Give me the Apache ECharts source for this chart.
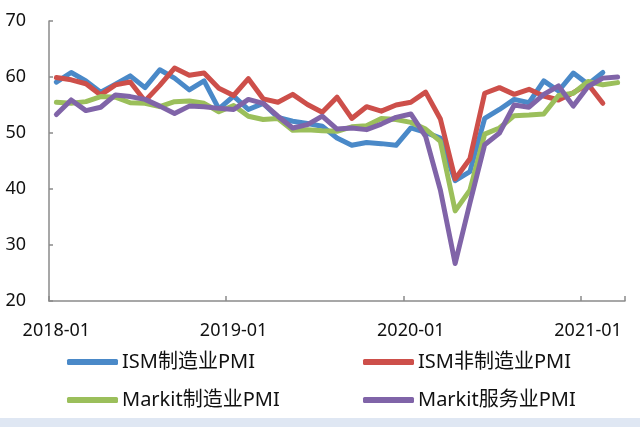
<!DOCTYPE html>
<html>
<head>
<meta charset="utf-8">
<script src="https://cdn.jsdelivr.net/npm/echarts@6/dist/echarts.min.js"></script>
<style>
  html, body { margin: 0; padding: 0; background: #fff; }
  #chart { width: 640px; height: 427px; }
</style>
</head>
<body>
<div id="chart"></div>
<script>
// monthly, 2018-01 .. 2021-03
const months = []
for (let y = 2018; y <= 2021; y++) {
  for (let m = 1; m <= 12; m++) {
    if (y === 2021 && m > 3) break
    months.push(y + '-' + String(m).padStart(2, '0'))
  }
}

const ismMfg = [
  59.1, 60.8, 59.3, 57.3, 58.7, 60.2, 58.1, 61.3, 59.8, 57.7, 59.3, 54.3,
  56.6, 54.2, 55.3, 52.8, 52.1, 51.7, 51.2, 49.1, 47.8, 48.3, 48.1, 47.8,
  50.9, 50.1, 49.1, 41.5, 43.1, 52.6, 54.2, 56.0, 55.4, 59.3, 57.5, 60.7,
  58.7, 60.8, null,
]
const ismNonMfg = [
  59.9, 59.5, 58.8, 56.8, 58.6, 59.1, 55.7, 58.5, 61.6, 60.3, 60.7, 58.0,
  56.7, 59.7, 56.1, 55.5, 56.9, 55.1, 53.7, 56.4, 52.6, 54.7, 53.9, 55.0,
  55.5, 57.3, 52.5, 41.8, 45.4, 57.1, 58.1, 56.9, 57.8, 56.6, 55.9, 57.2,
  58.7, 55.3, null,
]
const markitMfg = [
  55.5, 55.3, 55.6, 56.5, 56.4, 55.4, 55.3, 54.7, 55.6, 55.7, 55.3, 53.8,
  54.9, 53.0, 52.4, 52.6, 50.5, 50.6, 50.4, 50.3, 51.1, 51.3, 52.6, 52.4,
  51.9, 50.7, 48.5, 36.1, 39.8, 49.8, 50.9, 53.1, 53.2, 53.4, 56.7, 57.1,
  59.2, 58.6, 59.0,
]
const markitSvc = [
  53.3, 55.9, 54.0, 54.6, 56.8, 56.5, 56.0, 54.8, 53.5, 54.8, 54.7, 54.4,
  54.2, 56.0, 55.3, 53.0, 50.9, 51.5, 53.0, 50.7, 50.9, 50.6, 51.6, 52.8,
  53.4, 49.4, 39.8, 26.7, 37.5, 47.9, 50.0, 55.0, 54.6, 56.9, 58.4, 54.8,
  58.3, 59.8, 60.0,
]

const seriesNames = ['ISM制造业PMI', 'ISM非制造业PMI', 'Markit制造业PMI', 'Markit服务业PMI']
const colors = ['#4a89c8', '#cd4f4a', '#9bbf5b', '#8064a8']

const font = "'Noto Sans', 'Noto Sans CJK SC', sans-serif"
const axisGray = '#8a8a8a'

const chart = echarts.init(document.getElementById('chart'))

const makeLine = (name, data, color) => ({
  name,
  type: 'line',
  data,
  showSymbol: false,
  symbol: 'none',
  connectNulls: false,
  lineStyle: { width: 5, color, join: 'round', cap: 'round' },
  itemStyle: { color },
  emphasis: { disabled: true },
  animation: false,
})

const legendBase = {
  orient: 'vertical',
  top: 352,
  padding: 0,
  itemWidth: 51,
  itemHeight: 6,
  itemGap: 18,
  icon: 'roundRect',
  textStyle: { fontFamily: font, fontSize: 20, color: '#111', padding: [0, 0, 0, -1] },
}

chart.setOption({
  backgroundColor: '#fff',
  color: colors,
  grid: { left: 49, right: 15, top: 21, bottom: 126 },
  xAxis: {
    type: 'category',
    data: months,
    boundaryGap: true,
    axisLine: { lineStyle: { color: axisGray, width: 1.5 } },
    axisTick: { show: true, inside: true, length: 5, interval: 11, lineStyle: { color: axisGray, width: 1.5 } },
    axisLabel: { interval: 11, margin: 21, fontFamily: font, fontSize: 18, color: '#111' },
    splitLine: { show: false },
  },
  yAxis: {
    type: 'value',
    min: 20,
    max: 70,
    interval: 10,
    axisLine: { show: true, lineStyle: { color: axisGray, width: 1.5 } },
    axisTick: { show: true, inside: true, length: 4, lineStyle: { color: axisGray, width: 1.5 } },
    axisLabel: { margin: 23, fontFamily: font, fontSize: 18, color: '#111' },
    splitLine: { show: false },
  },
  legend: [
    Object.assign({}, legendBase, { left: 67, data: [seriesNames[0], seriesNames[2]] }),
    Object.assign({}, legendBase, { left: 363, data: [seriesNames[1], seriesNames[3]] }),
  ],
  graphic: [
    {
      type: 'rect',
      left: 0,
      top: 418,
      shape: { width: 640, height: 9 },
      style: { fill: '#dfe7f3' },
      silent: true,
    },
  ],
  series: [
    makeLine(seriesNames[0], ismMfg, colors[0]),
    makeLine(seriesNames[1], ismNonMfg, colors[1]),
    makeLine(seriesNames[2], markitMfg, colors[2]),
    makeLine(seriesNames[3], markitSvc, colors[3]),
  ],
})
</script>
</body>
</html>
